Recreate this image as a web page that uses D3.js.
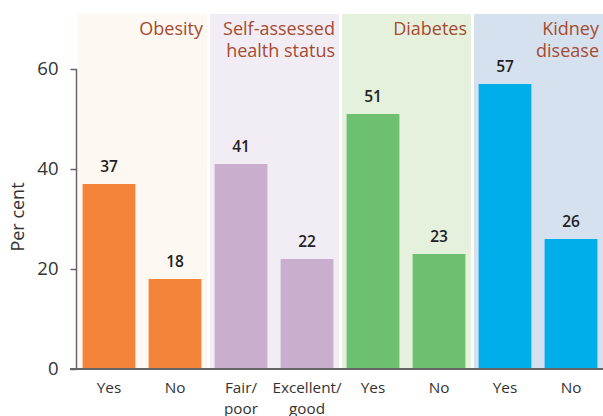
<!DOCTYPE html>
<html>
<head>
<meta charset="utf-8">
<script src="https://cdn.jsdelivr.net/npm/d3@7"></script>
<style>
  html, body { margin: 0; padding: 0; background: #ffffff; }
  svg { display: block; font-family: "Open Sans", Lato, sans-serif; }
</style>
</head>
<body>
<svg id="chart" width="603" height="416"></svg>
<script>
const categories = ["Yes", "No", "Fair/|poor", "Excellent/|good", "Yes", "No", "Yes", "No"];
const values = [37, 18, 41, 22, 51, 23, 57, 26];
const groups = ["Obesity", "Self-assessed|health status", "Diabetes", "Kidney|disease"];
const groupOf = [0, 0, 1, 1, 2, 2, 3, 3];
const barColors = ["#f4843a", "#c9aecd", "#6cc070", "#00aeea"];
const panelColors = ["#fdf8f2", "#f2edf5", "#e5f1dd", "#d6e1ef"];
const yTicks = [0, 20, 40, 60];

const FONT = "'Open Sans', Lato, sans-serif";
const svg = d3.select("#chart");
const x = d3.scaleBand().domain(d3.range(categories.length)).range([76, 604]).paddingInner(0.2).paddingOuter(0.1);
const y = d3.scaleLinear().domain([0, 60]).range([369, 69]);
const step = x.step();

// panels
const panelW = step * 2;
svg.append("g").selectAll("rect").data(groups).join("rect")
  .attr("x", (d, i) => x(2 * i) - x.paddingOuter() * step + 2)
  .attr("y", 14)
  .attr("width", panelW - 3)
  .attr("height", y(0) - 14)
  .attr("fill", (d, i) => panelColors[i]);

// group titles
const tg = svg.append("g");
groups.forEach((g, i) => {
  const right = x(2 * i) - x.paddingOuter() * step + 2 + panelW - 3 - 4;
  const t = tg.append("text").attr("text-anchor", "end").attr("fill", "#a64a30")
    .attr("font-size", 18);
  g.split("|").forEach((line, j) => {
    t.append("tspan").attr("x", right).attr("y", 35 + j * 22).text(line);
  });
});

// bars
svg.append("g").selectAll("rect").data(values).join("rect")
  .attr("x", (d, i) => x(i))
  .attr("y", d => y(d))
  .attr("width", x.bandwidth())
  .attr("height", d => y(0) - y(d))
  .attr("fill", (d, i) => barColors[groupOf[i]]);

// value labels
svg.append("g").selectAll("text").data(values).join("text")
  .attr("x", (d, i) => x(i) + x.bandwidth() / 2)
  .attr("y", d => y(d) - 12)
  .attr("text-anchor", "middle")
  .attr("font-size", 15.5)
  .attr("font-weight", 600)
  .attr("fill", "#222")
  .text(d => d);

// y axis
const yAxis = svg.append("g").attr("transform", "translate(76.5,0)")
  .call(d3.axisLeft(y).tickValues(yTicks).tickSize(6).tickPadding(12));
yAxis.select(".domain").attr("stroke", "#666").attr("stroke-width", 1.5).attr("d", `M0,${y(60)}V${y(0)}`);
yAxis.selectAll(".tick line").attr("stroke", "#666").attr("stroke-width", 1.5);
yAxis.selectAll(".tick text").attr("font-size", 18.5).attr("fill", "#333").attr("font-family", FONT);

// x axis
const xAxis = svg.append("g").attr("transform", `translate(0,${y(0)})`)
  .call(d3.axisBottom(x).tickSize(0).tickFormat(""));
xAxis.select(".domain").attr("stroke", "#666").attr("stroke-width", 2).attr("d", "M70,0H603");
xAxis.selectAll(".tick").each(function(d) {
  const t = d3.select(this).append("text").attr("text-anchor", "middle").attr("fill", "#333")
    .attr("font-size", 15.3).attr("font-family", FONT);
  categories[d].split("|").forEach((line, j) => {
    t.append("tspan").attr("x", 0).attr("y", 23.5 + j * 21).text(line);
  });
});

// y title
svg.append("text").attr("transform", "translate(24,217) rotate(-90)")
  .attr("text-anchor", "middle").attr("font-size", 18).attr("fill", "#333")
  .text("Per cent");
</script>
</body>
</html>
